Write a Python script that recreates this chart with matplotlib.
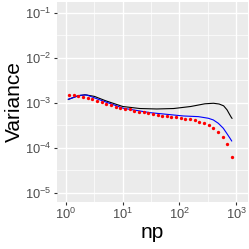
import numpy as np
import matplotlib
matplotlib.use("Agg")
import matplotlib.pyplot as plt

plt.rcParams['font.family'] = ['Liberation Sans', 'DejaVu Sans']
plt.rcParams['mathtext.fontset'] = 'custom'
plt.rcParams['mathtext.rm'] = 'Liberation Sans'
plt.rcParams['mathtext.it'] = 'Liberation Sans:italic'

# red points (np, variance)
pts_np = [1.13, 1.365, 1.649, 1.992, 2.407, 2.908, 3.514, 4.245, 5.129, 6.197,
          7.487, 9.05, 10.93, 13.2, 15.95, 19.28, 23.29, 28.14, 34.0, 41.08,
          49.63, 59.97, 72.45, 87.54, 105.8, 127.8, 154.4, 186.6, 225.4, 272.3,
          329.0, 397.5, 480.3, 580.2, 701.0, 846.7]
pts_var = [1.507e-3, 1.507e-3, 1.409e-3, 1.358e-3, 1.291e-3, 1.191e-3, 1.091e-3,
           1.021e-3, 9.51e-4, 8.75e-4, 8.15e-4, 7.62e-4, 7.36e-4, 7.06e-4, 6.64e-4,
           6.31e-4, 6.12e-4, 5.81e-4, 5.52e-4, 5.33e-4, 5.14e-4, 4.99e-4, 4.81e-4,
           4.74e-4, 4.57e-4, 4.41e-4, 4.28e-4, 4.03e-4, 3.72e-4, 3.48e-4, 3.15e-4,
           2.70e-4, 2.23e-4, 1.73e-4, 1.19e-4, 6.12e-5]

# black curve
blk_np = [1.1, 1.58, 2.16, 3.16, 5.01, 10.0, 19.95, 39.8, 79.4, 158.5, 281.8,
          398.1, 501.2, 602.6, 691.8, 758.6, 831.8, 846.7]
blk_var = [1.18e-3, 1.41e-3, 1.50e-3, 1.38e-3, 1.10e-3, 8.22e-4, 7.41e-4,
           7.24e-4, 7.41e-4, 8.22e-4, 9.44e-4, 9.70e-4, 9.33e-4, 8.51e-4,
           6.92e-4, 5.62e-4, 4.60e-4, 4.50e-4]

# blue curve
blu_np = [1.1, 1.77, 2.32, 3.98, 10.23, 30.2, 117.5, 216.3, 323.6, 396.3,
          485.3, 594.3, 682.3, 779.8, 835.6]
blu_var = [1.19e-3, 1.46e-3, 1.48e-3, 1.15e-3, 7.52e-4, 6.0e-4, 5.06e-4,
           4.89e-4, 4.50e-4, 4.13e-4, 3.48e-4, 2.70e-4, 2.09e-4, 1.62e-4,
           1.41e-4]

fig = plt.figure(figsize=(2.49, 2.49), dpi=100)
ax = fig.add_axes([0.229, 0.189, 0.767, 0.803])
ax.set_facecolor('#EBEBEB')
for s in ax.spines.values():
    s.set_visible(False)

ax.set_xscale('log')
ax.set_yscale('log')
ax.set_xlim(10**-0.159, 10**3.21)
ax.set_ylim(10**-5.207, 10**-0.762)

ax.set_xticks([1, 10, 100, 1000])
ax.set_yticks([1e-5, 1e-4, 1e-3, 1e-2, 1e-1])
ax.set_xticks([10**0.5, 10**1.5, 10**2.5], minor=True)
ax.set_yticks([10**-4.5, 10**-3.5, 10**-2.5, 10**-1.5], minor=True)
ax.set_xticklabels(['$10^{0}$', '$10^{1}$', '$10^{2}$', '$10^{3}$'])
ax.set_yticklabels(['$10^{-5}$', '$10^{-4}$', '$10^{-3}$', '$10^{-2}$', '$10^{-1}$'])
ax.tick_params(which='major', length=2.0, width=0.8, color='#333333',
               labelsize=9.3, labelcolor='#4D4D4D', pad=1.8)
ax.tick_params(which='minor', length=0)
ax.grid(which='major', color='white', lw=1.0)
ax.grid(which='minor', color='white', lw=0.5)
ax.set_axisbelow(True)

ax.plot(blk_np, blk_var, color='black', lw=0.8)
ax.plot(blu_np, blu_var, color='blue', lw=0.8)
ax.plot(pts_np, pts_var, 'o', color='red', ms=2.4, mew=0)

ax.set_xlabel('np', fontsize=15, labelpad=0.5)
ax.set_ylabel('Variance', fontsize=15, labelpad=1)

fig.savefig('out.png', dpi=100)
